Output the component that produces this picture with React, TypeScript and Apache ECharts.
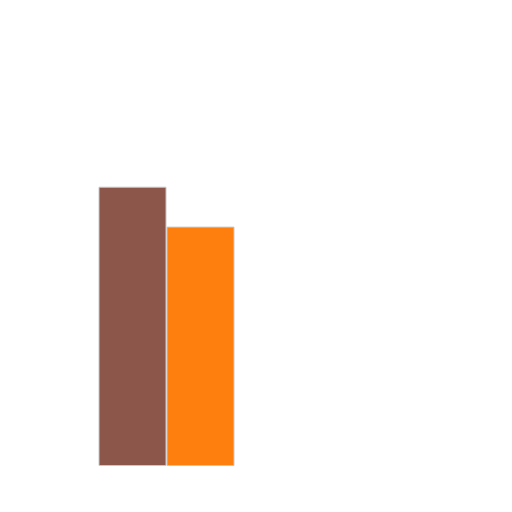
import React, { useEffect, useRef } from 'react';
import * as echarts from 'echarts';

const categories = [''];
const seriesNames = ['A', 'B'];
const seriesValues = [[7], [6]];
const seriesColors = ['#8c564b', '#ff7f0e'];

const App: React.FC = () => {
  const chartRef = useRef<HTMLDivElement>(null);

  useEffect(() => {
    const chart = echarts.init(chartRef.current!, null, { renderer: 'svg' });

    const options = {
      animation: false,
      grid: { left: 98.5, width: 136, top: 67, bottom: 46, containLabel: false },
      xAxis: {
        type: 'category',
        data: categories,
        show: false,
      },
      yAxis: {
        type: 'value',
        min: 0,
        max: 10,
        show: false,
      },
      series: seriesNames.map((name, i) => ({
        name,
        type: 'bar',
        data: seriesValues[i],
        barGap: '0%',
        barCategoryGap: '0%',
        itemStyle: {
          color: seriesColors[i],
          borderColor: '#c8c8c8',
          borderWidth: 1,
        },
      })),
    };

    chart.setOption(options);

    return () => {
      chart.dispose();
    };
  }, []);

  return (
    <div
      ref={chartRef}
      style={{ position: 'absolute', left: 0, top: 0, width: '512px', height: '512px' }}
    />
  );
};

export default App;
